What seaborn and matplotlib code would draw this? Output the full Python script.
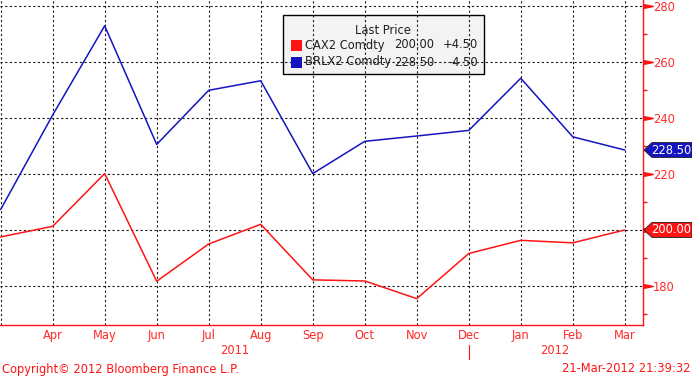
import matplotlib
matplotlib.use('Agg')

import matplotlib.pyplot as plt
import matplotlib.transforms as mtransforms
from matplotlib.patches import Rectangle, Polygon
import seaborn as sns
import pandas as pd

# monthly points, Mar 2011 .. Mar 2012
months = ['Mar', 'Apr', 'May', 'Jun', 'Jul', 'Aug', 'Sep', 'Oct', 'Nov', 'Dec', 'Jan', 'Feb', 'Mar']
cax2 = [197.5, 201.3, 220.1, 181.7, 195.0, 202.0, 182.2, 181.8, 175.5, 191.6, 196.3, 195.4, 200.0]
brlx2 = [207.3, 241.0, 272.8, 230.5, 249.8, 253.2, 220.1, 231.6, 233.5, 235.5, 254.1, 233.2, 228.5]
series_names = ['CAX2 Comdty', 'BRLX2 Comdty']
last_prices = [200.00, 228.50]
changes = ['+4.50', '-4.50']
y_major = [180, 200, 220, 240, 260, 280]
y_minor = [170, 190, 210, 230, 250, 270]
years = ['2011', '2012']
year_pos = [4.5, 10.65]
year_split = 9

RED = '#ff1414'
BLUE = '#1414c0'
TXT = '#ff2a2a'
W, H = 692, 377


def fx(px):
    return px / W


def fy(py):
    return 1 - py / H


sns.set_theme(style='white')
plt.rcParams['font.family'] = ['DejaVu Sans']
FS = 8.3

df = pd.DataFrame({
    'idx': list(range(len(months))) * 2,
    'price': cax2 + brlx2,
    'series': [series_names[0]] * len(cax2) + [series_names[1]] * len(brlx2),
})

fig = plt.figure(figsize=(W / 100, H / 100), dpi=100)
ax = fig.add_axes([0, fy(325), fx(643), 325 / H])
sns.lineplot(data=df, x='idx', y='price', hue='series',
             palette={series_names[0]: RED, series_names[1]: BLUE},
             ax=ax, legend=False, linewidth=1.1, zorder=2)

ax.set_xlim(-0.013, 12.35)
ax.set_ylim(166.1, 282.0)
ax.set_xlabel('')
ax.set_ylabel('')
ax.set_xticks(range(len(months)))
# first month sits on the left edge and carries no label
ax.set_xticklabels([''] + months[1:])
ax.yaxis.tick_right()
ax.set_yticks(y_major)
# tick labels hidden behind a price tag are left blank
ax.set_yticklabels(['' if any(abs(v - p) < 8 for p in last_prices) else str(v) for v in y_major])
ax.set_yticks(y_minor, minor=True)

ax.set_axisbelow('line')
ax.grid(True, which='major', color='#1a1a1a', linestyle=(0, (2, 2.2)), linewidth=0.8)
ax.grid(False, which='minor')

ax.tick_params(axis='x', length=0, pad=3, labelcolor=TXT, labelsize=FS)
ax.tick_params(axis='y', which='major', length=0, pad=7, labelcolor=TXT, labelsize=FS)
ax.tick_params(axis='y', which='minor', length=3, width=1, color=RED, direction='out')

for side in ['left', 'top']:
    ax.spines[side].set_visible(False)
for side in ['bottom', 'right']:
    ax.spines[side].set_color(RED)
    ax.spines[side].set_linewidth(1.0)

# arrow-style major ticks on the right axis
ytrans = mtransforms.blended_transform_factory(ax.transAxes, ax.transData)
ax.plot([1.0075] * len(y_major), y_major, linestyle='none',
        marker=[(-1, -0.4), (1, 0), (-1, 0.4), (-1, -0.4)], markersize=7,
        color=RED, transform=ytrans, clip_on=False)

# last price tags (arrow boxes on the right edge)
to_fig = ax.transData + fig.transFigure.inverted()
for price, col in zip(last_prices, [RED, BLUE]):
    yc = to_fig.transform((0, price))[1]
    hh = 7.5 / H
    verts = [(fx(644), yc), (fx(652), yc + hh), (fx(692), yc + hh),
             (fx(692), yc - hh), (fx(652), yc - hh)]
    ax.add_patch(Polygon(verts, closed=True, transform=fig.transFigure,
                         fc=col, ec='#202020', lw=0.6, zorder=5, clip_on=False))
    ax.text(fx(651), yc, f'{price:.2f}', transform=fig.transFigure, color='white',
            fontsize=FS, va='center', ha='left', zorder=6)

# year labels under month labels
xtrans = mtransforms.blended_transform_factory(ax.transData, ax.transAxes)
for yr, pos in zip(years, year_pos):
    ax.text(pos, (325 - 351) / 325, yr, transform=xtrans, color=TXT,
            fontsize=FS, ha='center', va='center', clip_on=False)
ax.plot([year_split, year_split], [(325 - 345) / 325, (325 - 359) / 325],
        color=RED, lw=0.8, transform=xtrans, clip_on=False)

# legend box
ax.add_patch(Rectangle((fx(283), fy(74)), fx(484) - fx(283), fy(15) - fy(74),
                       transform=fig.transFigure, fc='#f3f3f3', ec='black',
                       lw=1.0, zorder=1, clip_on=False))
ax.text(fx(383), fy(31), 'Last Price', transform=fig.transFigure, ha='center',
        va='center', fontsize=FS, color='#202020', zorder=3)
for i, (name, col, price, chg) in enumerate(zip(series_names, [RED, BLUE], last_prices, changes)):
    yc = [45, 62][i]
    ax.add_patch(Rectangle((fx(291), fy(yc + 5.5)), 11 / W, 11 / H,
                           transform=fig.transFigure, fc=col, ec='none',
                           zorder=3, clip_on=False))
    ax.text(fx(305), fy(yc), name, transform=fig.transFigure, ha='left',
            va='center', fontsize=FS, color='#202020', zorder=3)
    ax.text(fx(434), fy(yc), f'{price:.2f}', transform=fig.transFigure, ha='right',
            va='center', fontsize=FS, color='#202020', zorder=3)
    ax.text(fx(478), fy(yc), chg, transform=fig.transFigure, ha='right',
            va='center', fontsize=FS, color='#202020', zorder=3)

# footer
fig.text(fx(2), fy(369), 'Copyright\u00a9 2012 Bloomberg Finance L.P.',
         color=RED, fontsize=FS, ha='left', va='center')
fig.text(fx(690), fy(369), '21-Mar-2012 21:39:32',
         color=RED, fontsize=FS, ha='right', va='center')

fig.savefig('out.png', dpi=100, facecolor='white')
plt.close(fig)
